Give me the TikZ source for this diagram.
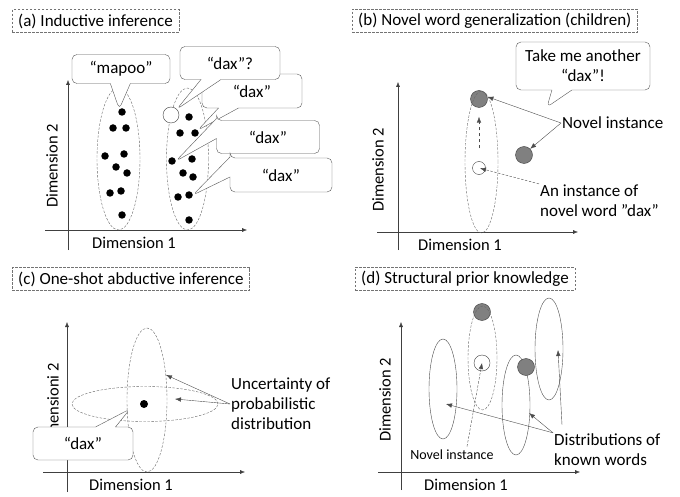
\documentclass[tikz,border=0pt]{standalone}
\usepackage{fontspec}
\setmainfont{Carlito}
\usetikzlibrary{shapes.callouts,shapes.geometric,arrows.meta,positioning,calc}

\begin{document}
\begin{tikzpicture}[x=1pt,y=-1pt,
    ttl/.style={draw=black!55,dash pattern=on 2.5pt off 1.5pt,anchor=west,inner xsep=6pt,inner ysep=4pt,font=\fontsize{17}{20}\selectfont},
    ax/.style={draw=black!75,-{Latex[length=5pt,width=4pt]}},
    lbl/.style={font=\fontsize{16.5}{19}\selectfont},
    note/.style={font=\fontsize{17}{20}\selectfont,align=left,anchor=west,inner sep=1pt},
    dot/.style={circle,fill=black,inner sep=0pt,minimum size=7.5pt},
    hole/.style={circle,draw=black!75,fill=white,inner sep=0pt,minimum size=#1},
    gdot/.style={circle,draw=black!75,fill=black!50,inner sep=0pt,minimum size=17pt},
    dist/.style={ellipse,draw=black!60,dash pattern=on 2.5pt off 1.5pt,inner sep=0pt},
    kdist/.style={ellipse,draw=black!70,inner sep=0pt},
    say/.style={rectangle callout,draw=black!65,fill=white,rounded corners=5pt,callout pointer width=20pt,font=\fontsize{17}{20}\selectfont,align=center},
    ptr/.style={draw=black!70,-{Latex[length=6pt,width=4.5pt]}},
  ]
  \useasboundingbox (0,0) rectangle (680,497);

  \node[ttl] (tA) at (12,21) {(a) Inductive inference};
  \draw[ax] (68,250) -- (68,80);
  \draw[ax] (45,230) -- (247,230);
  \node[lbl] (xA) at (134,243) {Dimension 1};
  \node[lbl,rotate=90] (yA) at (52,166) {Dimension 2};
  \node[dist,minimum width=43pt,minimum height=142pt] (eL) at (118.5,159) {};
  \node[dist,minimum width=42pt,minimum height=142pt] (eR) at (187.5,159) {};
  \foreach \x/\y [count=\i] in {122/112,113/128,126/128,105/156,124/154,116/167,127/173,110/193,121/191,122/215}
    \node[dot] (l\i) at (\x,\y) {};
  \foreach \x/\y [count=\i] in {189/117,180/133,195/133,172/161,192/159,183/173,193/177,178/197,189/195,189/220}
    \node[dot] (r\i) at (\x,\y) {};
  \node[hole=16pt] (hA) at (171,115) {};
  \node[say,minimum width=98pt,minimum height=29pt,callout absolute pointer={(l1.north west)}] (cMap) at (121,69) {“mapoo”};
  \node[say,minimum width=100pt,minimum height=34pt,callout absolute pointer={(r3.north east)}] (cDax2) at (252,91) {“dax”};
  \node[say,minimum width=100pt,minimum height=33pt,callout absolute pointer={(hA.north east)}] (cDax1) at (230,63) {“dax”?};
  \node[say,minimum width=103pt,minimum height=33pt,callout absolute pointer={(r4.east)}] (cDax3) at (268,137) {“dax”};
  \node[say,minimum width=102pt,minimum height=34pt,callout absolute pointer={(r9.east)}] (cDax4) at (281,175) {“dax”};

  \node[ttl] (tB) at (352,21) {(b) Novel word generalization (children)};
  \draw[ax] (398,250) -- (398,82);
  \draw[ax] (377,232) -- (578,232);
  \node[lbl] (xB) at (460,245) {Dimension 1};
  \node[lbl,rotate=90] (yB) at (378,170) {Dimension 2};
  \node[gdot] (gB1) at (479,99) {};
  \node[gdot] (gB2) at (524,155) {};
  \node[hole=13pt] (hB) at (479,168) {};
  \node[dist,minimum width=33pt,minimum height=142pt] (eB) at (481.5,162) {};
  \draw[ptr,dashed,shorten <=13pt,shorten >=9pt] (hB) -- (gB1);
  \coordinate (spk) at (547,107);
  \node[say,minimum width=134pt,minimum height=48pt,callout absolute pointer={(spk)}] (cTake) at (583,66) {Take me another\\“dax”!};
  \node[note] (nB) at (561,123) {Novel instance};
  \draw[ptr] (nB.west) -- (gB1.15);
  \draw[ptr] (nB.west) -- (gB2.north east);
  \node[note,align=left] (iB) at (539,201) {An instance of\\novel word ”dax”};
  \draw[ptr,dash pattern=on 2.5pt off 1.5pt,shorten >=1pt] (iB.north west) -- (hB.center);

  \node[ttl] (tC) at (12,279) {(c) One-shot abductive inference};
  \draw[ax] (67,492) -- (67,322);
  \draw[ax] (43,472) -- (245,472);
  \node[lbl] (xC) at (131,485) {Dimension 1};
  \node[lbl,rotate=90] (yC) at (53,407) {Dimensioni 2};
  \node[dist,minimum width=40pt,minimum height=144pt] (vC) at (147,400) {};
  \node[dist,minimum width=146pt,minimum height=35pt] (hC) at (145,404) {};
  \node[dot,minimum size=8pt] (dC) at (144,404) {};
  \node[say,minimum width=100pt,minimum height=33pt,callout absolute pointer={($(dC)+(-14,5)$)}] (cDaxC) at (83,443.5) {“dax”};
  \node[note] (uC) at (230,404) {Uncertainty of\\probabilistic\\distribution};
  \draw[ptr] (uC.west) -- (vC.53);
  \draw[ptr] (uC.west) -- ($(dC)+(31,-5)$);

  \node[ttl] (tD) at (355,279) {(d) Structural prior knowledge};
  \draw[ax] (401,490) -- (401,322);
  \draw[ax] (378,472) -- (580,472);
  \node[lbl] (xD) at (466,485) {Dimension 1};
  \node[lbl,rotate=90] (yD) at (385,400) {Dimension 2};
  \node[kdist,minimum width=28pt,minimum height=100pt] (k1) at (443,389) {};
  \node[kdist,minimum width=28pt,minimum height=100pt] (k3) at (516,405) {};
  \node[kdist,minimum width=28pt,minimum height=102pt] (k4) at (549,349) {};
  \node[gdot] (gD1) at (482,312) {};
  \node[gdot] (gD2) at (526,367) {};
  \node[hole=16pt] (hD) at (482,363) {};
  \node[dist,minimum width=29pt,minimum height=104pt] (k2) at (482.5,358) {};
  \node[font=\fontsize{14}{17}\selectfont] (nD) at (452,455) {Novel instance};
  \draw[ptr,dash pattern=on 2.5pt off 1.5pt] ($(nD.north)+(15,0)$) -- (hD.center);
  \node[note] (kD) at (553,450) {Distributions of\\known words};
  \draw[ptr] (kD.north west) -- ($(k1.center)+(3,15)$);
  \draw[ptr] (kD.north west) -- ($(k3.center)+(13,8)$);
  \draw[ptr] ($(kD.north west)+(9,-8)$) -- ($(k4.center)+(9,1)$);
\end{tikzpicture}
\end{document}
